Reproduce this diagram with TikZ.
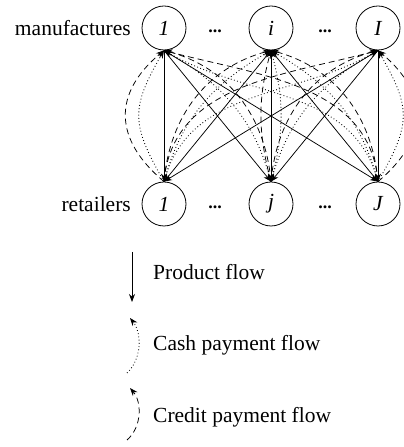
\documentclass[tikz,border=0pt]{standalone}
\usepackage{fontspec}
\setmainfont{Liberation Serif}
\usetikzlibrary{arrows.meta}
\begin{document}
\begin{tikzpicture}[x=1pt,y=1pt,
  every node/.style={font=\fontsize{21.5}{25}\selectfont},
  agent/.style={draw,circle,minimum size=44pt,inner sep=0pt,line width=0.8pt,font=\fontsize{21.5}{25}\selectfont\itshape},
  lbl/.style={anchor=east,inner sep=0pt},
  dots/.style={anchor=base,inner sep=0pt,font=\fontsize{18}{20}\selectfont\bfseries},
  tip/.style={-{Stealth[length=8pt,width=6pt]}},
  prod/.style={tip,line width=0.75pt},
  cash/.style={tip,line width=0.85pt,dash pattern=on 0.85pt off 2.4pt},
  credit/.style={tip,line width=0.75pt,dash pattern=on 6pt off 4pt},
  legtext/.style={anchor=west,inner sep=0pt}]
\useasboundingbox (0,0) rectangle (404,447);
% nodes
\node[agent] (m1) at (164,419) {1};
\node[agent] (mi) at (271,419) {i};
\node[agent] (mI) at (378,419) {I};
\node[agent] (r1) at (164,243) {1};
\node[agent] (rj) at (271,243) {j};
\node[agent] (rJ) at (378,243) {J};
\node[lbl] (lm) at (131,419) {manufactures};
\node[lbl] (lr) at (131,243) {retailers};
\node[dots] (d1) at (215,414) {...};
\node[dots] (d2) at (325,414) {...};
\node[dots] (d3) at (215,238) {...};
\node[dots] (d4) at (325,238) {...};
% product flows
\foreach \m in {m1,mi,mI}{
  \foreach \r in {r1,rj,rJ}{
    \draw[prod] (\m.south) -- (\r.north);
  }
}
% payment flows, same column
\draw[credit] (r1.north) to[out=140,in=220,looseness=1.3] (m1.south);
\draw[cash]   (r1.north) to[out=120,in=240,looseness=1.3] (m1.south);
\draw[credit] (rJ.north) to[out=40,in=-40,looseness=1.3] (mI.south);
\draw[cash]   (rJ.north) to[out=60,in=-60,looseness=1.3] (mI.south);
\draw[credit] (rj.north) to[out=105,in=255] (mi.south);
\draw[cash]   (rj.north) to[out=75,in=285] (mi.south);
% manufacturer to the left
\draw[credit] (rj.north) to[out=95,in=-15] (m1.south);
\draw[cash]   (rj.north) to[out=105,in=-30] (m1.south);
\draw[credit] (rJ.north) to[out=95,in=-15] (m1.south);
\draw[cash]   (rJ.north) to[out=105,in=-30] (m1.south);
\draw[credit] (rJ.north) to[out=95,in=-15] (mi.south);
\draw[cash]   (rJ.north) to[out=105,in=-30] (mi.south);
% manufacturer to the right
\draw[credit] (r1.north) to[out=85,in=195] (mi.south);
\draw[cash]   (r1.north) to[out=75,in=210] (mi.south);
\draw[credit] (r1.north) to[out=85,in=195] (mI.south);
\draw[cash]   (r1.north) to[out=75,in=210] (mI.south);
\draw[credit] (rj.north) to[out=85,in=195] (mI.south);
\draw[cash]   (rj.north) to[out=75,in=210] (mI.south);
% legend
\coordinate (pa) at (132,195);
\coordinate (pb) at (132,145);
\draw[prod] (pa) -- (pb);
\node[legtext] (tp) at (153,175) {Product flow};
\coordinate (ca) at (127,74);
\coordinate (cb) at (130,129);
\draw[cash] (ca) .. controls (142,88) and (142,114) .. (cb);
\node[legtext] (tc) at (153,102) {Cash payment flow};
\coordinate (ka) at (127,7);
\coordinate (kb) at (130,59);
\draw[credit] (ka) .. controls (142,20) and (142,45) .. (kb);
\node[legtext] (tk) at (153,30) {Credit payment flow};
\end{tikzpicture}
\end{document}
